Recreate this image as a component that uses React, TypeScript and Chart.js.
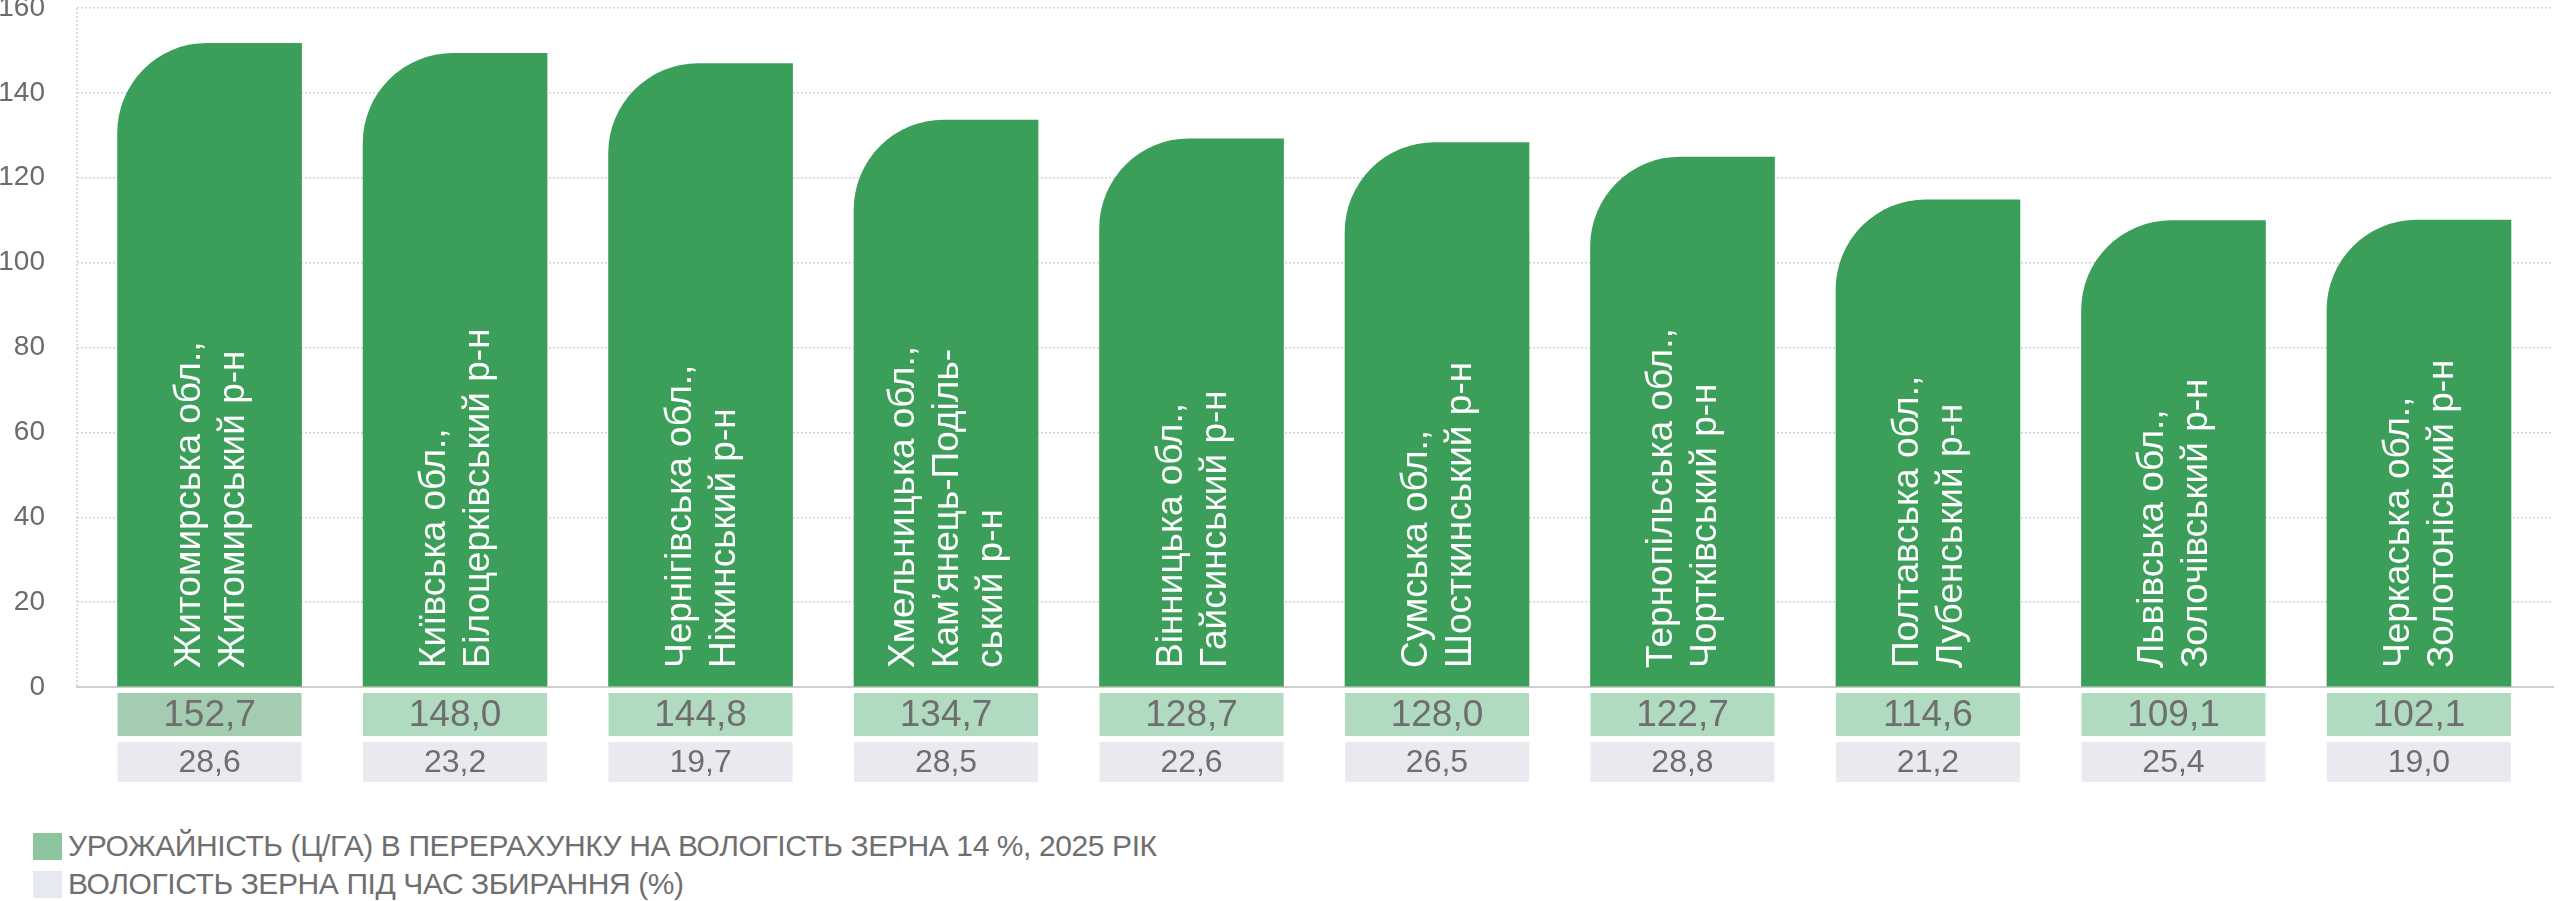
import { useEffect, useRef } from "react"
import { Chart, registerables } from "chart.js"

Chart.register(...registerables)

// regions (line breaks as in the original labels)
const regions = [
  "Житомирська обл.,\nЖитомирський р-н",
  "Київська обл.,\nБілоцерківський р-н",
  "Чернігівська обл.,\nНіжинський р-н",
  "Хмельницька обл.,\nКам’янець-Поділь-\nський р-н",
  "Вінницька обл.,\nГайсинський р-н",
  "Сумська обл.,\nШосткинський р-н",
  "Тернопільська обл.,\nЧортківський р-н",
  "Полтавська обл.,\nЛубенський р-н",
  "Львівська обл.,\nЗолочівський р-н",
  "Черкаська обл.,\nЗолотоніський р-н",
]

// bar heights as drawn in the picture
const barHeights = [151.7, 149.3, 146.9, 133.6, 129.2, 128.3, 124.9, 114.8, 109.9, 110.0]

// table rows under the bars
const yieldValues = [152.7, 148.0, 144.8, 134.7, 128.7, 128.0, 122.7, 114.6, 109.1, 102.1]
const moistureValues = [28.6, 23.2, 19.7, 28.5, 22.6, 26.5, 28.8, 21.2, 25.4, 19.0]
const highlightIndex = 0

const yMin = 0
const yMax = 160
const yStep = 20

const legendLabels = [
  "УРОЖАЙНІСТЬ (Ц/ГА) В ПЕРЕРАХУНКУ НА ВОЛОГІСТЬ ЗЕРНА 14 %, 2025 РІК",
  "ВОЛОГІСТЬ ЗЕРНА ПІД ЧАС ЗБИРАННЯ (%)",
]
const legendColors = ["#8cc59d", "#e6e9ef"]

const FONT = '"Liberation Sans", Arial, Helvetica, sans-serif'
const TEXT_GREY = "#6e6e6e"

const fmt = (v: number) => v.toFixed(1).replace(".", ",")

const tablePlugin = {
  id: "barTable",
  afterDatasetsDraw(chart: Chart) {
    const { ctx, chartArea } = chart
    const bars = chart.getDatasetMeta(0).data

    ctx.save()

    // dotted y axis line
    ctx.strokeStyle = "#d2d2d2"
    ctx.lineWidth = 1.5
    ctx.setLineDash([2, 2])
    ctx.beginPath()
    ctx.moveTo(chartArea.left, chartArea.top)
    ctx.lineTo(chartArea.left, chartArea.bottom)
    ctx.stroke()
    ctx.setLineDash([])

    bars.forEach((bar: any, i: number) => {
      const { x, width } = bar.getProps(["x", "width"], true)
      const left = x - width / 2

      // region name inside the bar
      ctx.save()
      ctx.translate(x, chartArea.bottom - 19)
      ctx.rotate(-Math.PI / 2)
      ctx.fillStyle = "#ffffff"
      ctx.font = `37px ${FONT}`
      ctx.textAlign = "left"
      ctx.textBaseline = "alphabetic"
      const lines = regions[i].split("\n")
      lines.forEach((line, j) => {
        ctx.fillText(line, 0, (j - (lines.length - 1) / 2) * 44 + 12)
      })
      ctx.restore()

      // yield row
      const r1Top = chartArea.bottom + 6
      ctx.fillStyle = i === highlightIndex ? "#a4ccb1" : "#b1dbc0"
      ctx.fillRect(left, r1Top, width, 43)
      ctx.fillStyle = TEXT_GREY
      ctx.font = `37px ${FONT}`
      ctx.textAlign = "center"
      ctx.textBaseline = "middle"
      ctx.fillText(fmt(yieldValues[i]), x, r1Top + 23)

      // moisture row
      const r2Top = chartArea.bottom + 55
      ctx.fillStyle = "#e8eaef"
      ctx.fillRect(left, r2Top, width, 40)
      ctx.fillStyle = TEXT_GREY
      ctx.font = `32px ${FONT}`
      ctx.fillText(fmt(moistureValues[i]), x, r2Top + 21)
    })

    ctx.restore()
  },
}

function YieldChart() {
  const chartRef = useRef<HTMLCanvasElement>(null)
  const chartInstance = useRef<Chart | null>(null)

  useEffect(() => {
    if (!chartRef.current) return
    if (chartInstance.current) chartInstance.current.destroy()

    const ctx = chartRef.current.getContext("2d")
    if (!ctx) return

    chartInstance.current = new Chart(ctx, {
      type: "bar",
      data: {
        labels: regions,
        datasets: [
          {
            label: legendLabels[0],
            data: barHeights.map((v, i) => ({ x: i, y: v })),
            backgroundColor: "#3b9f5a",
            borderWidth: 0,
            borderRadius: { topLeft: 90, topRight: 0, bottomLeft: 0, bottomRight: 0 },
            borderSkipped: "start",
            barThickness: 184,
          },
        ],
      },
      options: {
        animation: false,
        responsive: true,
        maintainAspectRatio: false,
        layout: {
          padding: { top: 8, right: 7, bottom: 113, left: 0 },
        },
        plugins: {
          legend: { display: false },
          tooltip: { enabled: false },
        },
        scales: {
          x: {
            type: "linear",
            min: -0.54,
            max: 9.546,
            offset: false,
            grid: { display: false },
            ticks: { display: false },
            border: { display: true, color: "#cfcfcf", width: 2 },
            afterFit: (scale: any) => {
              scale.height = 0
              scale.paddingLeft = 0
              scale.paddingRight = 0
            },
          },
          y: {
            min: yMin,
            max: yMax,
            grid: {
              color: "#d4d4d4",
              lineWidth: 1.5,
              drawTicks: false,
            },
            border: { display: false, dash: [2, 2] },
            ticks: {
              stepSize: yStep,
              padding: 32,
              color: "#6b6b6b",
              font: { family: FONT, size: 28 },
            },
            afterFit: (scale: any) => {
              scale.width = 77
              scale.paddingTop = 0
              scale.paddingBottom = 0
            },
          },
        },
      },
      plugins: [tablePlugin],
    })

    return () => {
      if (chartInstance.current) {
        chartInstance.current.destroy()
        chartInstance.current = null
      }
    }
  }, [])

  return (
    <div style={{ position: "absolute", left: 0, top: 0, width: 2560, height: 800 }}>
      <canvas ref={chartRef} />
    </div>
  )
}

export default function App() {
  return (
    <div style={{ position: "relative", width: 2560, height: 901, background: "#fff", overflow: "hidden" }}>
      <style>{"body{margin:0;}"}</style>
      <YieldChart />
      <div style={{ position: "absolute", left: 33, top: 827 }}>
        {legendLabels.map((label, i) => (
          <div key={label} style={{ display: "flex", alignItems: "center", height: 38 }}>
            <span
              style={{
                display: "inline-block",
                width: 29,
                height: 27,
                background: legendColors[i],
                marginRight: 6,
              }}
            />
            <span
              style={{
                fontFamily: FONT,
                fontSize: 30,
                letterSpacing: "-0.4px",
                color: "#6f6f6f",
                whiteSpace: "nowrap",
                lineHeight: "38px",
              }}
            >
              {label}
            </span>
          </div>
        ))}
      </div>
    </div>
  )
}
